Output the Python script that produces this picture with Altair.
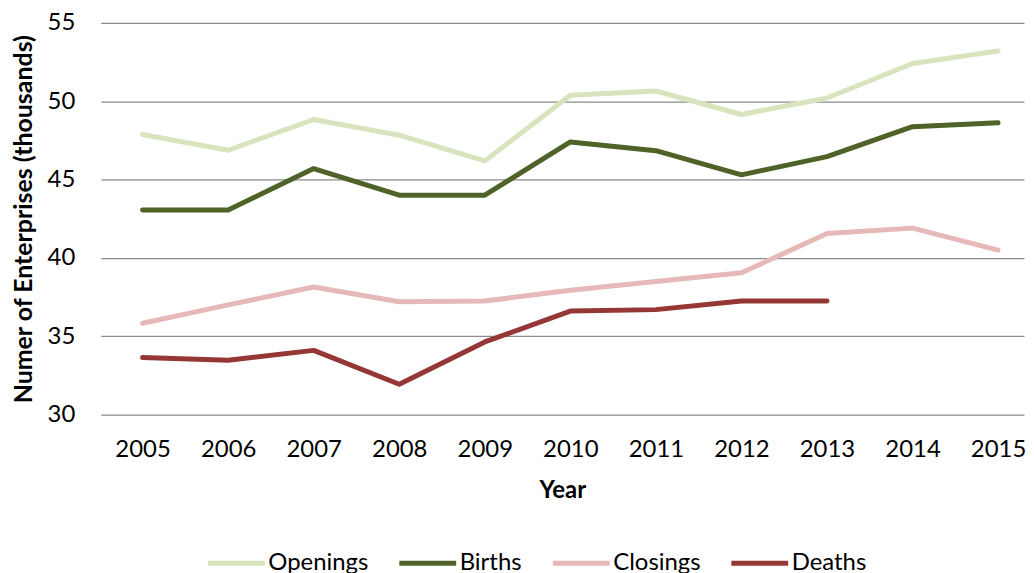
import altair as alt
import pandas as pd

years = [2005, 2006, 2007, 2008, 2009, 2010, 2011, 2012, 2013, 2014, 2015]
openings = [47.87, 46.87, 48.83, 47.83, 46.19, 50.38, 50.65, 49.15, 50.2, 52.4, 53.2]
births = [43.05, 43.05, 45.7, 44.0, 44.0, 47.4, 46.84, 45.3, 46.46, 48.37, 48.62]
closings = [35.83, 37.0, 38.14, 37.2, 37.25, 37.93, 38.5, 39.05, 41.55, 41.9, 40.5]
deaths = [33.64, 33.47, 34.1, 31.94, 34.64, 36.61, 36.7, 37.25, 37.25]

series_names = ["Openings", "Births", "Closings", "Deaths"]
series_colors = ["#D7E4BD", "#4F6228", "#E6B9B8", "#953735"]
y_ticks = [30, 35, 40, 45, 50, 55]

rows = []
for name, vals in zip(series_names, [openings, births, closings, deaths]):
    for yr, v in zip(years, vals):
        rows.append({"Year": yr, "Series": name, "Value": v})
df = pd.DataFrame(rows)

FONT = "Lato"

chart = alt.Chart(df).mark_line(
    strokeWidth=5, strokeCap="round", strokeJoin="round"
).encode(
    x=alt.X(
        "Year:Q",
        scale=alt.Scale(domain=[2004.5105, 2015.303], nice=False, zero=False),
        axis=alt.Axis(
            values=years, format="d", title="Year", grid=False, ticks=False,
            tickSize=0, domain=False, labelPadding=23, labelFontSize=24,
            labelFont=FONT, labelColor="#000000", titleFont=FONT,
            titleFontSize=24, titleFontWeight="bold", titleColor="#000000",
            titlePadding=17,
        ),
    ),
    y=alt.Y(
        "Value:Q",
        scale=alt.Scale(domain=[30, 55], nice=False, zero=False),
        axis=alt.Axis(
            values=y_ticks, title="Numer of Enterprises (thousands)",
            grid=True, gridColor="#8A8A8A", gridWidth=1.3, ticks=False,
            tickSize=0, domain=False, labelPadding=26, labelFontSize=24,
            labelFont=FONT, labelColor="#000000", titleFont=FONT,
            titleFontSize=25, titleFontWeight="bold", titleColor="#000000",
            titlePadding=11,
        ),
    ),
    color=alt.Color(
        "Series:N",
        scale=alt.Scale(domain=series_names, range=series_colors),
        sort=series_names,
        legend=alt.Legend(
            title=None, orient="none", direction="horizontal",
            legendX=105, legendY=511, symbolType="stroke",
            symbolSize=3249, symbolStrokeWidth=5, labelFontSize=24,
            labelFont=FONT, labelColor="#000000", labelOffset=1,
            columnPadding=20,
        ),
    ),
).properties(
    width=926, height=393,
    padding={"top": 2, "left": 3, "right": 0, "bottom": 0},
).configure_view(stroke=None)

chart.save("out.html", embed_options={"renderer": "svg", "actions": False})
